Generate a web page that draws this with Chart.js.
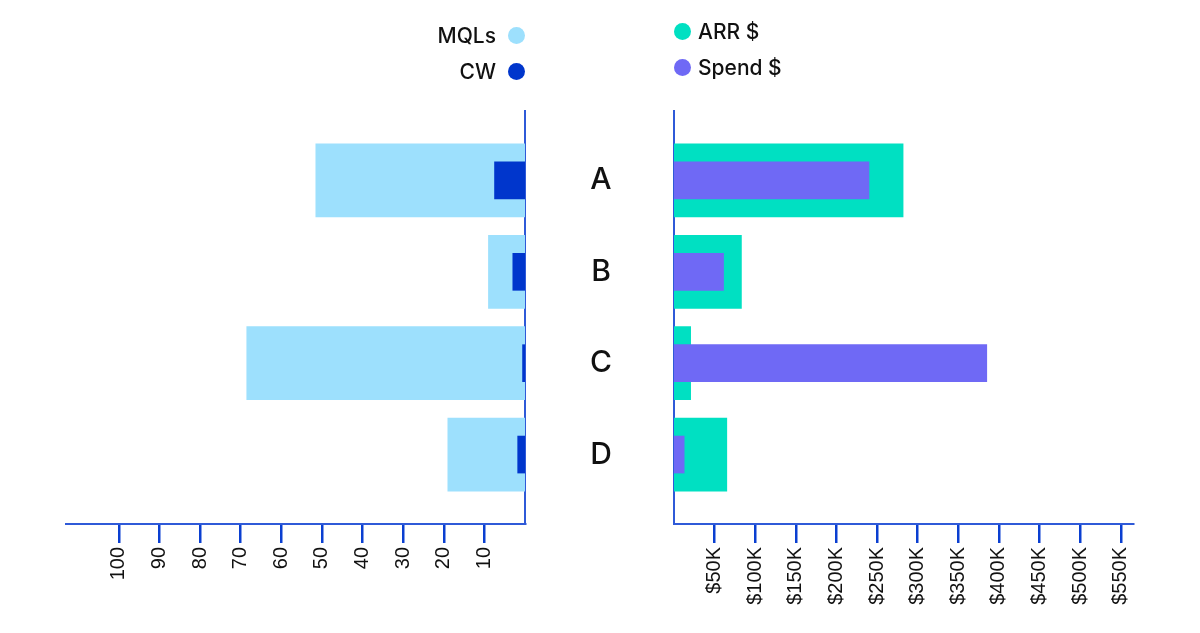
<!DOCTYPE html>
<html>
    <head>
        <script src="https://cdn.jsdelivr.net/npm/chart.js"></script>
        <style>
            body { margin: 0; background: #fff; font-family: Inter, "Noto Sans", sans-serif; }
            #wrap { position: relative; width: 1200px; height: 633px; }
            .box { position: absolute; top: 0; height: 633px; }
            #leftBox { left: 0; width: 540px; }
            #rightBox { left: 525px; width: 675px; }
            .legend { position: absolute; font-size: 21px; font-weight: 500; color: #111; }
            .legend div { display: flex; align-items: center; height: 36px; }
            .legend span.dot { display: inline-block; width: 17px; height: 17px; border-radius: 50%; }
            #legLeft { right: 675px; top: 17px; }
            #legLeft div { justify-content: flex-end; }
            #legLeft span.dot { margin-left: 12px; }
            #legRight { left: 674px; top: 13px; }
            #legRight span.dot { margin-right: 7px; }
        </style>
    </head>

    <body>
        <div id="wrap">
            <div class="box" id="leftBox"><canvas id="left"></canvas></div>
            <div class="box" id="rightBox"><canvas id="right"></canvas></div>
            <div class="legend" id="legLeft"></div>
            <div class="legend" id="legRight"></div>
        </div>

        <script>
            const categories = ['A', 'B', 'C', 'D'];
            const mqls = [51.5, 9, 68.5, 19];
            const cw = [7.5, 3, 0.6, 1.8];
            const arr = [282000, 83000, 20500, 65000];
            const spend = [240000, 61000, 385000, 12500];
            const leftTicks = [10, 20, 30, 40, 50, 60, 70, 80, 90, 100];
            const rightTicks = [50000, 100000, 150000, 200000, 250000, 300000, 350000, 400000, 450000, 500000, 550000];

            const colors = {mqls: '#9de0fd', cw: '#0036cc', arr: '#00e0c2', spend: '#6f69f5'};
            const axisBlue = '#2f5ad8';
            const tickBlue = '#0a3fd1';

            const toPts = (vals) => vals.map((v, i) => ({x: v, y: i}));

            // legends as html
            function legend(el, items, textFirst) {
                items.forEach(([name, col]) => {
                    const row = document.createElement('div');
                    const dot = '<span class="dot" style="background:' + col + '"></span>';
                    row.innerHTML = textFirst ? '<span>' + name + '</span>' + dot : dot + '<span>' + name + '</span>';
                    el.appendChild(row);
                });
            }
            legend(document.getElementById('legLeft'), [['MQLs', colors.mqls], ['CW', colors.cw]], true);
            legend(document.getElementById('legRight'), [['ARR $', colors.arr], ['Spend $', colors.spend]], false);

            const tickFont = {family: '"Liberation Sans", Arial, sans-serif', size: 20};

            function yAxis(position, showLabels) {
                return {
                    type: 'linear',
                    position: position,
                    reverse: true,
                    offset: false,
                    min: -0.76,
                    max: 3.76,
                    afterBuildTicks: (s) => { s.ticks = categories.map((c, i) => ({value: i})); },
                    afterFit: (s) => { s.width = showLabels ? 149 : 15; },
                    grid: {display: false, offset: false},
                    border: {display: true, color: axisBlue, width: 2},
                    ticks: {
                        display: showLabels,
                        crossAlign: 'center',
                        padding: 54,
                        color: '#111',
                        font: {family: 'Inter, "Noto Sans", sans-serif', size: 30, weight: '500'},
                        callback: (v) => categories[v]
                    }
                };
            }

            function xAxis(max, reverse, tickVals, fmt) {
                return {
                    type: 'linear',
                    min: 0,
                    max: max,
                    reverse: reverse,
                    afterBuildTicks: (s) => { s.ticks = tickVals.map((v) => ({value: v})); },
                    afterFit: (s) => { s.height = 109; },
                    grid: {display: true, drawOnChartArea: false, drawTicks: true, tickLength: 19, color: tickBlue, lineWidth: 2.5},
                    border: {display: true, color: axisBlue, width: 2},
                    ticks: {
                        autoSkip: false,
                        minRotation: 90,
                        maxRotation: 90,
                        padding: 4,
                        color: '#111',
                        font: tickFont,
                        callback: fmt
                    }
                };
            }

            const common = {
                indexAxis: 'y',
                responsive: true,
                maintainAspectRatio: false,
                animation: false,
                plugins: {legend: {display: false}, tooltip: {enabled: true}}
            };

            new Chart(document.getElementById('left'), {
                type: 'bar',
                data: {
                    datasets: [
                        {label: 'MQLs', data: toPts(mqls), backgroundColor: colors.mqls, barThickness: 73, grouped: false, order: 2},
                        {label: 'CW', data: toPts(cw), backgroundColor: colors.cw, barThickness: 37, grouped: false, order: 1}
                    ]
                },
                options: Object.assign({}, common, {
                    layout: {padding: {left: 66, top: 111, right: 0, bottom: 0}},
                    scales: {
                        x: xAxis(113, true, leftTicks, (v) => v),
                        y: yAxis('right', false)
                    }
                })
            });

            new Chart(document.getElementById('right'), {
                type: 'bar',
                data: {
                    datasets: [
                        {label: 'ARR $', data: toPts(arr), backgroundColor: colors.arr, barThickness: 73, grouped: false, order: 2},
                        {label: 'Spend $', data: toPts(spend), backgroundColor: colors.spend, barThickness: 37, grouped: false, order: 1}
                    ]
                },
                options: Object.assign({}, common, {
                    layout: {padding: {left: 0, top: 111, right: 67, bottom: 0}},
                    scales: {
                        x: xAxis(565000, false, rightTicks, (v) => '$' + (v / 1000) + 'K'),
                        y: yAxis('left', true)
                    }
                })
            });
        </script>
    </body>
</html>
